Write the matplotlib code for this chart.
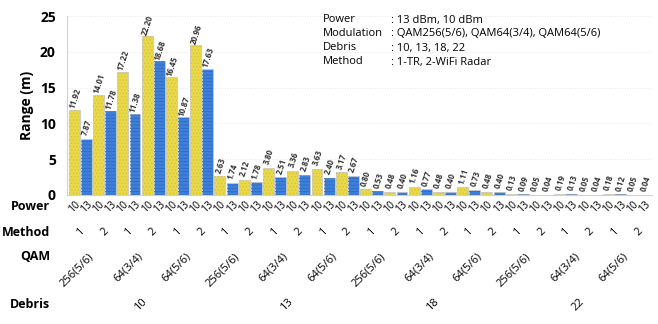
import matplotlib
matplotlib.use('Agg')
import matplotlib.pyplot as plt
import numpy as np

plt.rcParams['font.family'] = ['Open Sans', 'DejaVu Sans']
plt.rcParams['hatch.linewidth'] = 0.6

# Factor levels, outermost first
debris = ['10', '13', '18', '22']
qam = ['256(5/6)', '64(3/4)', '64(5/6)']
methods = ['1', '2']
powers = ['10', '13']

# Range (m) for every debris / QAM / method / power combination
ranges = [
    11.92, 7.87, 14.01, 11.78, 17.22, 11.38, 22.20, 18.68, 16.45, 10.87, 20.96, 17.63,
    2.63, 1.74, 2.12, 1.78, 3.80, 2.51, 3.36, 2.83, 3.63, 2.40, 3.17, 2.67,
    0.80, 0.53, 0.48, 0.40, 1.16, 0.77, 0.48, 0.40, 1.11, 0.73, 0.48, 0.40,
    0.13, 0.09, 0.05, 0.04, 0.19, 0.13, 0.05, 0.04, 0.18, 0.12, 0.05, 0.04,
]

info_keys = ['Power', 'Modulation', 'Debris', 'Method']
info_vals = [': 13 dBm, 10 dBm', ': QAM256(5/6), QAM64(3/4), QAM64(5/6)',
             ': 10, 13, 18, 22', ': 1-TR, 2-WiFi Radar']

colors = {'10': '#E8D84A', '13': '#3D7FD9'}
hatch_colors = {'10': '#D6C53A', '13': '#2F6CC2'}
hatches = {'10': '.....', '13': '-----'}

fig = plt.figure(figsize=(6.58, 3.24), dpi=100)
ax = fig.add_axes([67 / 658, 1 - 195 / 324, (652 - 67) / 658, (195 - 16) / 324])

n_p, n_m, n_q = len(powers), len(methods), len(qam)
x = np.arange(len(ranges))
bar_power = [powers[i % n_p] for i in x]
px = 0.72  # points per pixel

for xi, val, p in zip(x, ranges, bar_power):
    ax.bar(xi, val, width=0.9, color=colors[p], edgecolor='#C8C8C8', linewidth=0.6, zorder=2)
    ax.bar(xi, val, width=0.9, color='none', edgecolor=hatch_colors[p], hatch=hatches[p],
           linewidth=0, zorder=3)
    ax.annotate(f'{val:.2f}', (xi, val), xytext=(0.5, 11 * px), textcoords='offset points',
                rotation=72, ha='center', va='center', fontsize=5.8, fontweight='bold',
                color='#333333', zorder=4)

ax.set_xlim(-0.6, len(ranges) - 0.4)
ax.set_ylim(0, 25)
ax.set_yticks([0, 5, 10, 15, 20, 25])
ax.yaxis.grid(True, linestyle=(0, (1, 2)), color='#E0E0E0', linewidth=0.6, zorder=0)
ax.tick_params(axis='y', length=0, pad=8, labelsize=10)
for lbl in ax.get_yticklabels():
    lbl.set_fontweight('bold')
ax.set_xticks([])
for s in ['top', 'right']:
    ax.spines[s].set_visible(False)
for s in ['left', 'bottom']:
    ax.spines[s].set_color('#D0D0D0')
    ax.spines[s].set_linewidth(0.8)
ax.set_ylabel('Range (m)', fontsize=10, fontweight='bold', labelpad=4)

trans = ax.get_xaxis_transform()

# Power row, one label per bar
for xi, p in zip(x, bar_power):
    ax.annotate(p, (xi, 0), xycoords=trans, xytext=(0, -12 * px), textcoords='offset points',
                rotation=45, ha='center', va='center', fontsize=7.5, annotation_clip=False)

# Method row, one label per pair of bars
for k in range(len(ranges) // n_p):
    xc = k * n_p + (n_p - 1) / 2
    ax.annotate(methods[k % n_m], (xc, 0), xycoords=trans, xytext=(0, -37 * px),
                textcoords='offset points', rotation=45, ha='center', va='center',
                fontsize=8, annotation_clip=False)

# QAM row, one label per four bars
span_q = n_p * n_m
for k in range(len(ranges) // span_q):
    xc = k * span_q + (span_q - 1) / 2
    ax.annotate(qam[k % n_q], (xc + 0.3, 0), xycoords=trans, xytext=(0, -56 * px),
                textcoords='offset points', rotation=45, ha='right', va='top',
                fontsize=8, annotation_clip=False)

# Debris row, one label per twelve bars
span_d = span_q * n_q
for k, d in enumerate(debris):
    xc = k * span_d + (span_d - 1) / 2
    ax.annotate(d, (xc, 0), xycoords=trans, xytext=(0, -110 * px),
                textcoords='offset points', rotation=45, ha='center', va='center',
                fontsize=8, annotation_clip=False)

# Row headers
for name, ypx in zip(['Power', 'Method', 'QAM', 'Debris'], [206, 232, 256, 304]):
    fig.text(50 / 658, 1 - ypx / 324, name, ha='right', va='center',
             fontsize=9, fontweight='bold')

# Parameter summary block
for i, (k, v) in enumerate(zip(info_keys, info_vals)):
    yy = 1 - (20 + i * 14) / 324
    fig.text(323 / 658, yy, k, ha='left', va='center', fontsize=8)
    fig.text(391 / 658, yy, v, ha='left', va='center', fontsize=8)

fig.savefig('out.png', dpi=100)
